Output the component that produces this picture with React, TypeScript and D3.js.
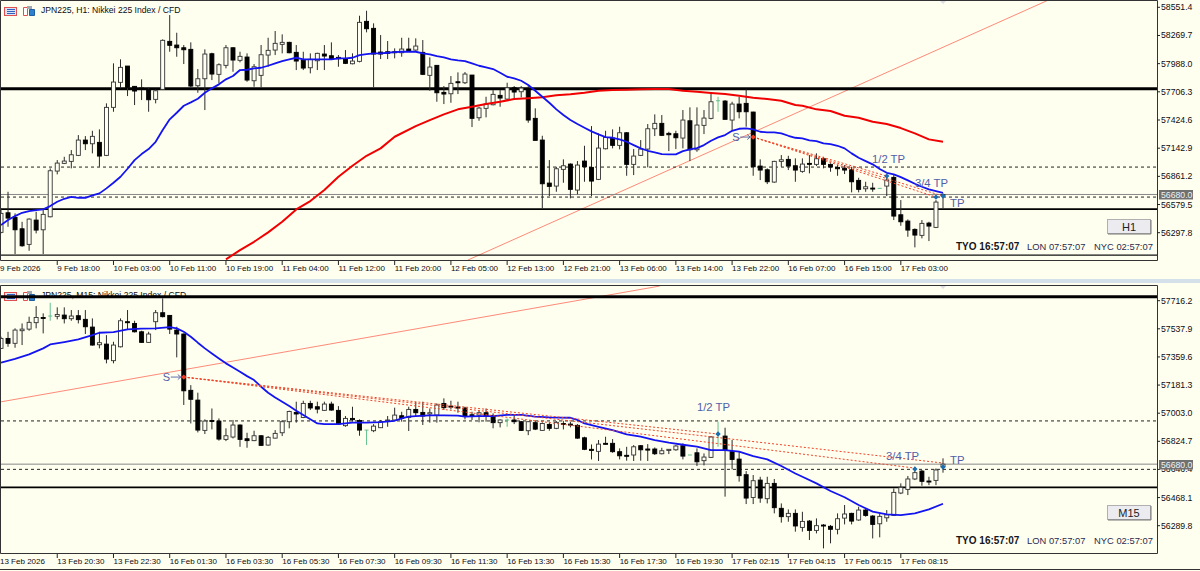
import React from "react";
import * as d3 from "d3";

// ---------- H1 panel data ----------
const h1Open = [56301,56497,56451,56337,56181,56424,56327,56457,56914,56991,57011,57071,57224,57187,57201,57071,57551,57801,57964,57761,57744,57731,57631,57731,58211,58174,58147,58131,57767,57837,58087,57881,57971,58147,58021,58054,57817,57871,58074,58124,58181,58201,58101,58021,57947,58017,58084,58067,58051,58037,57987,58011,58411,58341,58104,58107,58107,58097,58134,58124,58101,57871,57971,57701,57687,57807,57797,57874,57447,57541,57577,57671,57634,57747,57707,57741,57441,57224,56794,56764,56931,56984,56724,57014,56951,56831,57137,57244,57171,57297,56981,57071,57134,57337,57391,57291,57287,57244,57417,57127,57371,57441,57617,57614,57424,57584,57591,57504,56964,56927,56804,57011,57031,56967,56911,56991,56981,57037,56981,56951,56941,56927,56821,56737,56744,56741,56764,56851,56477,56414,56331,56271,56394,56351,56670];
const h1High = [56541,56707,56491,56407,56441,56507,56524,56941,57024,57057,57124,57274,57264,57317,57331,57591,57991,58031,57964,57764,57831,57751,57731,58231,58474,58297,58174,58201,57934,58131,58097,57991,58174,58151,58107,58091,57984,58174,58247,58314,58281,58207,58174,58107,58091,58097,58174,58201,58074,58124,58091,58467,58517,58391,58274,58214,58141,58247,58247,58241,58224,58051,57974,57764,57864,57901,57904,57874,57557,57657,57724,57724,57797,57764,57764,57764,57541,57267,57024,56957,57031,56991,57014,57167,57364,57291,57317,57331,57357,57304,57134,57224,57384,57481,57474,57307,57317,57524,57551,57551,57524,57691,57657,57624,57607,57657,57731,57507,57031,56941,57017,57074,57067,57041,57041,57074,57091,57057,56991,56974,56974,56957,56847,56807,56797,56741,56874,56874,56624,56431,56341,56424,56407,56624,56691];
const h1Low = [56291,56357,56084,56157,56117,56291,56084,56451,56881,56984,56941,57064,57124,57091,56957,57064,57507,57741,57664,57574,57624,57507,57591,57724,58107,58057,57984,57751,57697,57524,57824,57791,57941,57907,58001,57807,57757,57751,57957,58074,58091,58091,57924,57924,57891,57924,57924,58024,57957,57984,57981,58001,58301,57751,58034,58034,58041,58057,58107,58117,57874,57717,57607,57584,57597,57684,57784,57354,57417,57451,57571,57557,57624,57631,57651,57397,57221,56541,56664,56707,56797,56641,56681,56807,56664,56824,57131,57141,57131,56867,56874,57064,56951,57264,57264,57114,57134,57141,57014,57107,57284,57431,57507,57431,57324,57441,57357,56867,56824,56784,56797,56957,56924,56807,56897,56891,56964,56941,56907,56867,56884,56701,56701,56707,56707,56741,56664,56424,56367,56257,56151,56241,56214,56344,56541];
const h1Close = [56491,56444,56327,56167,56434,56324,56481,56917,56994,57014,57077,57224,57187,57261,57064,57551,57804,57951,57751,57714,57731,57627,57717,58221,58171,58147,58127,57764,57837,58084,57884,57977,58147,58024,58061,57824,57957,58077,58121,58191,58201,58097,58014,57944,58031,58091,58064,58031,58037,57991,58014,58401,58337,58084,58084,58091,58097,58134,58114,58164,57881,57954,57697,57684,57791,57797,57884,57441,57544,57584,57681,57644,57747,57704,57744,57424,57221,56787,56761,56937,56967,56731,56974,56957,56814,57144,57251,57171,57297,56981,57064,57134,57337,57391,57271,57277,57247,57424,57127,57374,57444,57607,57617,57431,57584,57507,57507,56957,56924,56807,57011,57027,56964,56924,56984,56981,57037,56981,56954,56937,56924,56807,56731,56757,56734,56741,56824,56464,56407,56324,56274,56391,56364,56604,56680];
const h1Green = [102, 125];
const h1Fast = [56374,56424,56464,56497,56514,56524,56531,56564,56607,56637,56657,56647,56647,56671,56691,56741,56797,56857,56937,57024,57084,57134,57207,57324,57431,57497,57567,57601,57637,57697,57741,57781,57831,57864,57924,57927,57941,57947,57967,57991,58014,58031,58047,58031,58031,58031,58031,58031,58041,58041,58047,58074,58084,58091,58091,58097,58104,58107,58107,58107,58091,58081,58064,58051,58031,58021,58014,57991,57967,57951,57934,57897,57857,57841,57817,57774,57717,57657,57597,57531,57474,57424,57384,57347,57311,57281,57254,57247,57231,57207,57174,57141,57117,57101,57084,57081,57081,57114,57131,57144,57174,57217,57251,57274,57317,57337,57341,57331,57307,57301,57301,57291,57267,57247,57241,57221,57214,57191,57184,57167,57141,57091,57047,57014,56981,56934,56897,56881,56854,56821,56787,56757,56731,56714,56697];
const h1SlowIdx = [32,34,36,38,40,42,44,46,48,50,52,54,56,59,61,63,65,67,69,71,73,75,77,79,81,83,85,87,89,91,93,95,97,99,101,103,105,107,109,111,113,114,116,118,120,122,124,126,128,130,132,134];
const h1SlowVal = [56031,56124,56207,56301,56407,56531,56614,56724,56857,56967,57067,57141,57257,57364,57424,57481,57531,57557,57584,57607,57634,57641,57651,57671,57681,57697,57717,57724,57727,57731,57734,57734,57717,57707,57694,57684,57667,57647,57634,57617,57574,57567,57531,57514,57467,57447,57407,57384,57344,57291,57231,57207];
const h1TickPrices = [58551.4,58269.7,57988.0,57706.3,57424.6,57142.9,56861.2,56579.5,56297.8];
const h1TimeLabels = ["9 Feb 2026","9 Feb 18:00","10 Feb 03:00","10 Feb 11:00","10 Feb 19:00","11 Feb 04:00","11 Feb 12:00","11 Feb 20:00","12 Feb 05:00","12 Feb 13:00","12 Feb 21:00","13 Feb 06:00","13 Feb 14:00","13 Feb 22:00","16 Feb 07:00","16 Feb 15:00","17 Feb 03:00"];
const h1ThickLevel = [57737];
const h1DashLevels = [56954, 56654];
const h1GrayLevel = [56680];
const h1SolidLevels = [56534];
const h1BottomLevel = [56074];
const h1TrendI = [66.4, 149];
const h1TrendP = [56024, 58624];
const h1EntryI = 107;
const h1EntryP = 57254;
const h1TargetI = [126, 133, 134];
const h1TargetP = [56864, 56654, 56664];
const h1LabelI = [123.9, 130, 135];
const h1LabelP = [57034, 56794, 56594];

// ---------- M15 panel data ----------
const m15Open = [57414,57477,57446,57526,57536,57577,57610,57619,57617,57625,57602,57621,57598,57549,57437,57441,57336,57424,57583,57572,57519,57452,57583,57640,57623,57530,57505,57148,57086,56894,56957,56953,56837,56852,56928,56841,56829,56860,56801,56845,56879,56949,57008,56976,57065,57044,57021,57061,57021,56924,56970,56957,56896,56892,56911,56955,56960,56987,56976,57027,57008,56998,56991,57065,57048,57042,57036,56993,56991,57006,56989,56943,56960,56960,56949,56892,56943,56894,56932,56907,56938,56934,56926,56847,56774,56761,56812,56812,56759,56736,56738,56797,56776,56776,56746,56767,56771,56797,56738,56752,56702,56723,56869,56858,56759,56712,56613,56469,56579,56461,56558,56400,56347,56368,56279,56319,56260,56294,56286,56267,56338,56368,56326,56389,56351,56302,56340,56355,56497,56520,56586,56636,56573,56577,56664];
const m15High = [57488,57519,57541,57572,57615,57682,57636,57703,57674,57674,57657,57657,57657,57604,57519,57498,57456,57604,57657,57589,57526,57519,57657,57731,57625,57551,57509,57181,57133,56964,57033,56970,56907,56960,56932,56879,56892,56864,56858,56896,56960,57019,57076,57082,57082,57076,57076,57076,57048,56985,57044,56964,56896,56934,56960,56985,57038,57012,57044,57074,57076,57033,57065,57097,57082,57076,57044,57012,57019,57033,57002,56964,56970,56991,56953,56953,56953,56945,56943,56953,56953,56949,56934,56854,56805,56833,56854,56839,56780,56790,56801,56801,56807,56786,56784,56776,56801,56812,56738,56780,56748,56858,56949,56911,56833,56759,56636,56611,56600,56600,56586,56431,56393,56393,56378,56326,56336,56300,56294,56368,56421,56372,56410,56400,56357,56368,56389,56526,56558,56605,56664,56643,56600,56653,56717];
const m15Low = [57410,57424,57418,57435,57526,57541,57509,57589,57598,57572,57589,57572,57505,57431,57414,57319,57319,57420,57530,57515,57450,57450,57530,57610,57505,57357,57055,56938,56881,56871,56900,56829,56826,56843,56790,56784,56826,56795,56797,56843,56858,56907,56943,56972,57023,57002,57017,57019,56932,56917,56949,56860,56801,56883,56909,56917,56955,56949,56890,56985,56928,56943,56943,57023,57027,57006,56964,56960,56945,56949,56907,56913,56917,56934,56890,56864,56896,56892,56892,56902,56900,56913,56841,56769,56710,56700,56805,56752,56710,56702,56700,56702,56700,56738,56742,56744,56765,56710,56738,56668,56672,56719,56790,56474,56647,56569,56427,56427,56435,56431,56368,56309,56315,56252,56252,56199,56241,56146,56178,56235,56298,56298,56321,56347,56209,56216,56315,56351,56490,56484,56579,56543,56547,56547,56626];
const m15Close = [57477,57446,57530,57536,57579,57610,57604,57619,57629,57602,57619,57596,57551,57435,57450,57346,57435,57589,57577,57519,57452,57505,57640,57615,57536,57505,57145,57091,56896,56953,56951,56839,56860,56928,56837,56829,56860,56799,56850,56875,56949,57014,56998,57065,57036,57029,57061,57023,56934,56970,56962,56896,56896,56921,56949,56960,56991,56970,57027,57006,56985,57006,57055,57038,57042,57038,56985,56985,57006,56985,56943,56960,56960,56949,56894,56949,56902,56938,56907,56945,56932,56928,56845,56774,56767,56807,56807,56759,56733,56731,56790,56771,56769,56746,56765,56774,56795,56731,56738,56695,56725,56852,56869,56769,56710,56607,56465,56575,56465,56558,56404,56347,56368,56288,56317,56260,56290,56288,56267,56334,56364,56319,56389,56355,56298,56349,56359,56501,56533,56586,56626,56571,56567,56643,56680];
const m15Green = [7, 52, 72, 98, 102];
const m15FastIdx = [0,2,4,6,7,9,11,13,14,16,18,20,22,24,25,26,27,28,29,30,31,32,33,34,35,36,37,38,39,40,41,42,43,44,45,46,48,50,52,54,56,57,58,59,61,63,65,66,68,70,72,74,76,78,81,82,83,85,87,89,91,93,95,97,99,101,103,105,107,109,111,113,114,116,118,120,122,124,126,128,130,132,134];
const m15FastVal = [57323,57348,57376,57414,57439,57454,57471,57498,57513,57517,57534,57539,57541,57549,57541,57519,57488,57450,57414,57382,57350,57319,57293,57266,57238,57213,57171,57133,57103,57076,57048,57019,56991,56964,56938,56934,56934,56943,56943,56947,56955,56970,56981,56985,56989,56989,56987,56981,56985,56985,56993,56993,56981,56977,56974,56960,56938,56917,56896,56869,56854,56833,56816,56803,56791,56769,56769,56759,56731,56710,56668,56621,56600,56558,56510,56470,56421,56379,56362,56357,56368,56393,56429];
const m15TickPrices = [57716.2,57537.9,57359.6,57181.3,57003.0,56824.7,56646.4,56468.1,56289.8];
const m15TimeLabels = ["13 Feb 2026","13 Feb 20:30","13 Feb 22:30","16 Feb 01:30","16 Feb 03:30","16 Feb 05:30","16 Feb 07:30","16 Feb 09:30","16 Feb 11:30","16 Feb 13:30","16 Feb 15:30","16 Feb 17:30","16 Feb 19:30","17 Feb 02:15","17 Feb 04:15","17 Feb 06:15","17 Feb 08:15"];
const m15ThickLevel = [57742];
const m15DashLevels = [56954, 56647];
const m15GrayLevel = [56680];
const m15SolidLevels = [56533];
const m15TrendI = [-0.14, 93.7];
const m15TrendP = [57074, 57809];
const m15EntryI = 26;
const m15EntryP = 57232;
const m15TargetI = [102, 130, 134];
const m15TargetP = [56871, 56655, 56687];
const m15MarkerP = [56871, 56649, 56662];
const m15LabelI = [99, 125.9, 135];
const m15LabelP = [57042, 56732, 56706];

const tpLabels = ["1/2 TP", "3/4 TP", "TP"];
const clocks = ["TYO 16:57:07", "LON 07:57:07", "NYC 02:57:07"];

const BG = "#FFFFF0";
const FONT = "'Liberation Sans', Arial, sans-serif";
const INK = "#0c0c12";
const NOTE = "#5060a8";

const xScale = d3.scaleLinear().domain([0, 134]).range([1, 943]);

type PanelProps = {
  id: string; top: number; bottom: number; y0: number; y1: number; p0: number; p1: number;
  open: number[]; high: number[]; low: number[]; close: number[]; green: number[];
  fastI: number[]; fastV: number[]; slowI?: number[]; slowV?: number[];
  ticks: number[]; times: string[]; thick: number[]; dashes: number[]; gray: number[]; solids: number[]; bottomLevel?: number[];
  trendI: number[]; trendP: number[]; entryI: number; entryP: number; targetI: number[]; targetP: number[]; markerP: number[];
  labelI: number[]; labelP: number[]; title: string; button: string; btnY: number; clockY: number; tagY: number; chevY: number;
};

function Panel(p: PanelProps) {
  const y = d3.scaleLinear().domain([p.p0, p.p1]).range([p.y0, p.y1]);
  const line = d3.line<[number, number]>().x((d) => xScale(d[0])).y((d) => y(d[1]));
  const zip = (a: number[], b: number[]) => a.map((v, i) => [v, b[i]] as [number, number]);
  const right = 1157;
  const clip = `clip-${p.id}`;
  const ex = xScale(p.entryI);
  const ey = y(p.entryP);
  return (
    <g fontFamily={FONT}>
      <clipPath id={clip}><rect x={1} y={p.top} width={right - 1} height={p.bottom - p.top} /></clipPath>
      <g transform={`translate(0,${p.top + 1})`}>
        <rect x={4.5} y={6.5} width={12} height={8} fill="#d8e4f4" stroke="#e05050" />
        <path d="M7 8.5h8M7 10.5h8M7 12.5h8" stroke="#3060c0" strokeWidth={1} />
        <path d="M23.5 6.5h4v8h-4z" fill="#fff" stroke="#e05050" />
        <path d="M29.5 8.5h5v6h-5z" fill="#3080d0" stroke="#2060a0" />
        <rect x={27} y={5} width={5} height={3} fill="#a0a8b0" />
      </g>
      <text x={41} y={p.top + 13} fontSize={8.6} fill={INK}>{p.title}</text>
      <g clipPath={`url(#${clip})`}>
        <path d={line(zip(p.trendI, p.trendP)) ?? ""} fill="none" stroke="#ff8a78" strokeWidth={1} />
        {p.thick.map((v) => <line key={v} x1={1} x2={right} y1={y(v)} y2={y(v)} stroke="#000" strokeWidth={3} />)}
        {p.gray.map((v) => <line key={v} x1={1} x2={right} y1={y(v)} y2={y(v)} stroke="#888" strokeWidth={1} />)}
        {p.dashes.map((v) => <line key={v} x1={1} x2={right} y1={y(v)} y2={y(v)} stroke="#222" strokeWidth={1} strokeDasharray="3 3" />)}
        {p.solids.map((v) => <line key={v} x1={1} x2={right} y1={y(v)} y2={y(v)} stroke="#000" strokeWidth={1.6} />)}
        {(p.bottomLevel ?? []).map((v) => <line key={v} x1={1} x2={right} y1={y(v)} y2={y(v)} stroke="#111" strokeWidth={1.4} />)}
        {p.open.map((o, i) => {
          const c = p.close[i];
          const x = xScale(i);
          const isGreen = p.green.includes(i);
          const bull = c >= o;
          const top = y(Math.max(o, c));
          const h = Math.abs(y(o) - y(c));
          if (isGreen) {
            return (
              <g key={i} stroke="#62c08e" strokeWidth={1}>
                <line x1={x} x2={x} y1={y(p.high[i])} y2={y(p.low[i])} />
                <line x1={x - 2} x2={x + 2} y1={y(o)} y2={y(o)} />
              </g>
            );
          }
          return (
            <g key={i}>
              <line x1={x} x2={x} y1={y(p.high[i])} y2={y(p.low[i])} stroke="#2a2a2a" strokeWidth={1} />
              <rect x={x - 2} y={top} width={4} height={Math.max(h, 1)} fill={bull ? "#FFFFF4" : "#000"} stroke={bull ? "#333" : "#000"} strokeWidth={0.9} />
            </g>
          );
        })}
        {p.slowI && p.slowV && <path d={line(zip(p.slowI, p.slowV)) ?? ""} fill="none" stroke="#f00000" strokeWidth={2} strokeLinejoin="round" />}
        <path d={line(zip(p.fastI, p.fastV)) ?? ""} fill="none" stroke="#1414f0" strokeWidth={1.8} strokeLinejoin="round" />
        {p.targetI.map((t, k) => (
          <line key={k} x1={ex} y1={ey} x2={xScale(t)} y2={y(p.targetP[k])} stroke="#f04428" strokeWidth={1} strokeDasharray="2 2" />
        ))}
        <text x={ex - 21} y={ey + 4} fontSize={11} fill={NOTE}>S</text>
        <path d={`M${ex - 13} ${ey}H${ex - 3}M${ex - 6} ${ey - 2.5}L${ex - 3} ${ey}L${ex - 6} ${ey + 2.5}`} fill="none" stroke={NOTE} strokeWidth={0.9} />
        <path d={(d3.symbol().type(d3.symbolDiamond2).size(18)() as string)} transform={`translate(${ex},${ey})`} fill="#f03a20" />
        {p.targetI.map((t, k) => (
          <path key={k} d={d3.symbol().type(d3.symbolDiamond2).size(18)() as string} transform={`translate(${xScale(t)},${y(p.markerP[k])})`} fill="#1a6db0" />
        ))}
        {tpLabels.map((t, k) => (
          <text key={t} x={xScale(p.labelI[k])} y={y(p.labelP[k]) + 4} fontSize={11.3} fill={NOTE}>{t}</text>
        ))}
        <path d={`M${xScale(134) - 3} ${p.chevY}h6l-3 3z`} fill="#dcdce4" />
      </g>
      <path d={`M0.5 ${p.top + 0.5}H${right + 0.5}V${p.bottom + 0.5}H0.5Z`} fill="none" stroke="#333" strokeWidth={1} />
      {p.ticks.map((t) => (
        <g key={t}>
          <line x1={right} x2={right + 3} y1={y(t)} y2={y(t)} stroke="#222" />
          <text x={right + 4} y={y(t) + 3} fontSize={8.7} fill={INK}>{t.toFixed(1)}</text>
        </g>
      ))}
      <rect x={1159} y={p.tagY} width={34} height={9.5} fill="#707070" />
      <text x={1161} y={p.tagY + 8} fontSize={8.7} fill="#f2f2f2">56680.0</text>
      {p.times.map((t, k) => {
        const x = xScale(k * 8);
        return (
          <g key={t}>
            {k > 0 && <line x1={x} x2={x} y1={p.bottom + 1} y2={p.bottom + 5} stroke="#222" />}
            <text x={x + (k === 0 ? -1 : 0)} y={p.bottom + 11} fontSize={8} fill={INK}>{t}</text>
          </g>
        );
      })}
      <rect x={1107.5} y={p.btnY + 0.5} width={43} height={14} fill="#ececf0" stroke="#b0b0b0" />
      <path d={`M1108 ${p.btnY + 15}H1151V${p.btnY + 1}`} fill="none" stroke="#777" />
      <text x={1129} y={p.btnY + 11.5} fontSize={11} textAnchor="middle" fill="#222">{p.button}</text>
      <text x={956} y={p.clockY} fontSize={10} fontWeight={700} fill="#15151c">{clocks[0]}</text>
      <text x={1027} y={p.clockY} fontSize={9.4} fill="#2a2a50">{clocks[1]}</text>
      <text x={1094} y={p.clockY} fontSize={9.4} fill="#2a2a50">{clocks[2]}</text>
    </g>
  );
}

export default function App() {
  return (
    <svg width={1200} height={571} viewBox="0 0 1200 571" style={{ position: "absolute", left: 0, top: 0, display: "block" }}>
      <rect width={1200} height={571} fill={BG} />
      <Panel id="h1" top={0} bottom={260} y0={7.3} y1={232.7} p0={58551.4} p1={56297.8}
        open={h1Open} high={h1High} low={h1Low} close={h1Close} green={h1Green}
        fastI={h1Fast.map((_, i) => i)} fastV={h1Fast} slowI={h1SlowIdx} slowV={h1SlowVal}
        ticks={h1TickPrices} times={h1TimeLabels} thick={h1ThickLevel} dashes={h1DashLevels} gray={h1GrayLevel} solids={h1SolidLevels} bottomLevel={h1BottomLevel}
        trendI={h1TrendI} trendP={h1TrendP} entryI={h1EntryI} entryP={h1EntryP} targetI={h1TargetI} targetP={h1TargetP} markerP={h1TargetP}
        labelI={h1LabelI} labelP={h1LabelP} title="JPN225, H1:  Nikkei 225 Index / CFD" button="H1" btnY={219} clockY={250} tagY={190} chevY={1} />
      <rect x={0} y={279} width={1200} height={4} fill="#d4e0ea" />
      <Panel id="m15" top={285} bottom={553} y0={300.7} y1={525.7} p0={57716.2} p1={56289.8}
        open={m15Open} high={m15High} low={m15Low} close={m15Close} green={m15Green}
        fastI={m15FastIdx} fastV={m15FastVal}
        ticks={m15TickPrices} times={m15TimeLabels} thick={m15ThickLevel} dashes={m15DashLevels} gray={m15GrayLevel} solids={m15SolidLevels}
        trendI={m15TrendI} trendP={m15TrendP} entryI={m15EntryI} entryP={m15EntryP} targetI={m15TargetI} targetP={m15TargetP} markerP={m15MarkerP}
        labelI={m15LabelI} labelP={m15LabelP} title="JPN225, M15:  Nikkei 225 Index / CFD" button="M15" btnY={505} clockY={543.5} tagY={460} chevY={286} />
      <line x1={0} x2={1200} y1={569.5} y2={569.5} stroke="#333" />
    </svg>
  );
}
